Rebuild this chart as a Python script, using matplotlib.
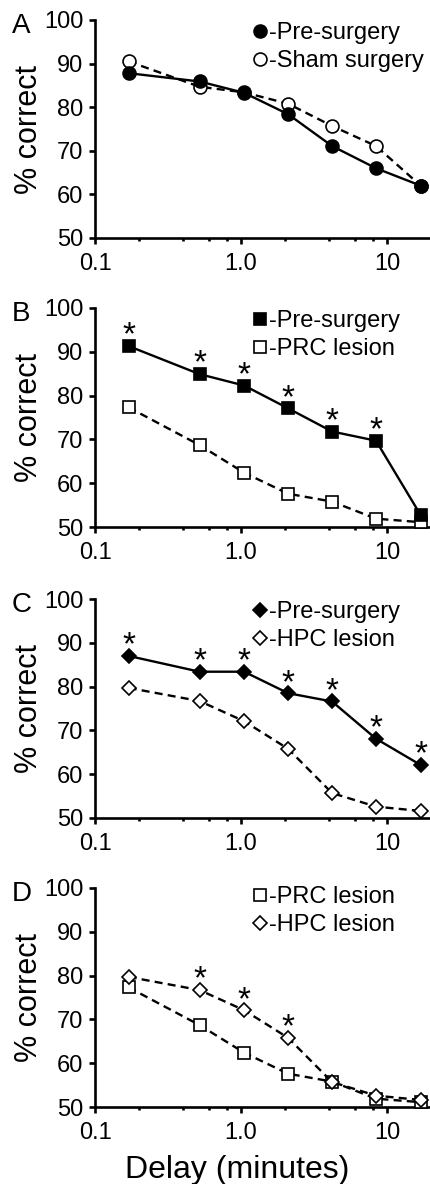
import matplotlib
matplotlib.use("Agg")
import matplotlib.pyplot as plt
from matplotlib.lines import Line2D
from matplotlib.ticker import FixedLocator, NullFormatter

plt.rcParams['font.family'] = ['Liberation Sans', 'DejaVu Sans']

# delays in minutes (10 s, 30 s, 1, 2, 4, 8, 16 min)
delays = [0.17, 0.52, 1.05, 2.1, 4.2, 8.4, 17.0]

a_pre = [87.8, 85.9, 83.3, 78.4, 71.1, 66.0, 62.0]
a_sham = [90.5, 84.7, 83.4, 80.8, 75.7, 71.1, 62.0]

b_pre = [91.3, 84.9, 82.3, 77.1, 71.8, 69.7, 52.7]
b_prc = [77.3, 68.7, 62.4, 57.6, 55.8, 51.9, 51.1]

c_pre = [87.0, 83.4, 83.4, 78.5, 76.6, 68.1, 62.1]
c_hpc = [79.7, 76.7, 72.1, 65.8, 55.7, 52.6, 51.6]

b_star = [0, 1, 2, 3, 4, 5]
c_star = [0, 1, 2, 3, 4, 5, 6]
d_star = [1, 2, 3]

W, H = 431, 1184
fig = plt.figure(figsize=(W / 100, H / 100), dpi=100)

# (top, bottom) in pixels for each panel
boxes = [(20, 238), (308, 527), (599, 818), (888, 1107)]
left_px, right_px = 95, 431
TICK_FS = 17
LEG_FS = 17
LAB_FS = 22
LW = 1.7


def make_axes(top, bottom):
    ax = fig.add_axes([left_px / W, 1 - bottom / H, (right_px - left_px) / W, (bottom - top) / H])
    ax.set_xscale('log')
    ax.set_xlim(0.1, 20)
    ax.set_ylim(50, 100)
    ax.set_yticks([50, 60, 70, 80, 90, 100])
    ax.xaxis.set_major_locator(FixedLocator([0.1, 1.0, 10]))
    ax.set_xticklabels(['0.1', '1.0', '10'])
    ax.xaxis.set_minor_locator(FixedLocator([0.2, 0.4, 0.6, 0.8, 2, 4, 6, 8]))
    ax.xaxis.set_minor_formatter(NullFormatter())
    for s in ['top', 'right']:
        ax.spines[s].set_visible(False)
    for s in ['left', 'bottom']:
        ax.spines[s].set_linewidth(1.9)
    ax.tick_params(which='major', length=4, width=1.9, labelsize=TICK_FS)
    ax.tick_params(axis='y', pad=4.5)
    ax.tick_params(axis='x', pad=6.5)
    ax.tick_params(which='minor', length=2.2, width=1.9)
    ax.set_ylabel('% correct', fontsize=LAB_FS)
    ax.yaxis.set_label_coords((44 - left_px) / (right_px - left_px), 0.5)
    ax.set_facecolor('none')
    return ax


def series(ax, y, marker, filled, dashed, ms):
    ax.plot(delays, y, color='black', lw=LW,
            linestyle=(0, (3.4, 2.2)) if dashed else '-',
            marker=marker, markersize=ms, markeredgewidth=1.2,
            markerfacecolor='black' if filled else 'white',
            markeredgecolor='black', clip_on=False, zorder=3)


def stars(ax, y, idx):
    for i in idx:
        ax.annotate('*', (delays[i], y[i]), xytext=(0, 1), textcoords='offset points',
                    ha='center', va='baseline', fontsize=24)


def legend(ax, top, specs):
    handles = [Line2D([], [], linestyle='none', marker=m, markersize=ms,
                      markerfacecolor='black' if f else 'white', markeredgecolor='black',
                      markeredgewidth=1.2) for m, f, ms, _ in specs]
    labels = [t for _, _, _, t in specs]
    ax.legend(handles, labels, loc='upper left',
              bbox_to_anchor=(250.5 / W, 1 - (top + 2) / H), bbox_transform=fig.transFigure,
              frameon=False, fontsize=LEG_FS, handletextpad=0.0, handlelength=0.8,
              labelspacing=0.25, borderaxespad=0.0, borderpad=0.0)


MS_O, MS_S, MS_D = 9.3, 8.0, 6.7

axA = make_axes(*boxes[0])
series(axA, a_sham, 'o', False, True, MS_O)
series(axA, a_pre, 'o', True, False, MS_O)
legend(axA, boxes[0][0], [('o', True, MS_O, '-Pre-surgery'), ('o', False, MS_O, '-Sham surgery')])

axB = make_axes(*boxes[1])
series(axB, b_prc, 's', False, True, MS_S)
series(axB, b_pre, 's', True, False, MS_S)
stars(axB, b_pre, b_star)
legend(axB, boxes[1][0], [('s', True, MS_S, '-Pre-surgery'), ('s', False, MS_S, '-PRC lesion')])

axC = make_axes(*boxes[2])
series(axC, c_hpc, 'D', False, True, MS_D)
series(axC, c_pre, 'D', True, False, MS_D)
stars(axC, c_pre, c_star)
legend(axC, boxes[2][0], [('D', True, MS_D, '-Pre-surgery'), ('D', False, MS_D, '-HPC lesion')])

axD = make_axes(*boxes[3])
series(axD, b_prc, 's', False, True, MS_S)
series(axD, c_hpc, 'D', False, True, MS_D)
stars(axD, c_hpc, d_star)
legend(axD, boxes[3][0] - 4, [('s', False, MS_S, '-PRC lesion'), ('D', False, MS_D, '-HPC lesion')])
xl = axD.set_xlabel('Delay (minutes)', fontsize=23)
xl.set_verticalalignment('baseline')
axD.xaxis.set_label_coords((237 - left_px) / (right_px - left_px), (1107 - 1178) / (1107 - 888))

for letter, (top, bottom) in zip('ABCD', boxes):
    fig.text(12 / W, 1 - (top + 6) / H, letter, fontsize=20, ha='left', va='center')

fig.savefig('out.png', dpi=100)
